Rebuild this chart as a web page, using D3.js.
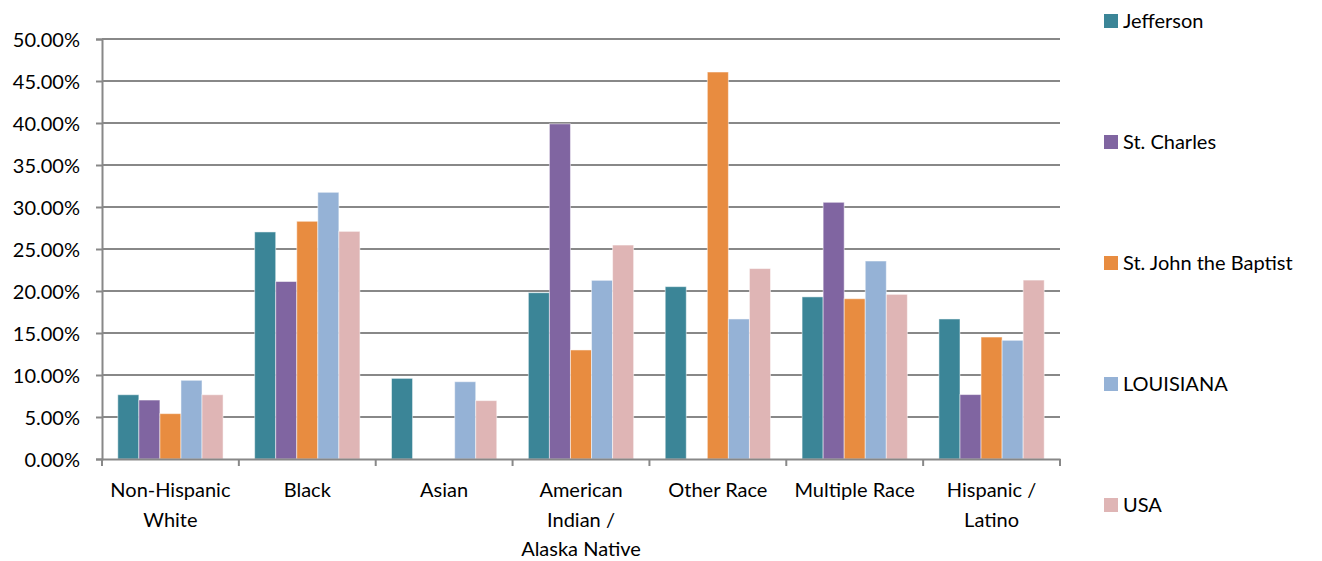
<!DOCTYPE html>
<html>
<head>
<meta charset="utf-8">
<script src="https://cdn.jsdelivr.net/npm/d3@7"></script>
<style>
  body { margin: 0; background: #fff; }
  text { font-family: Lato, "Open Sans", sans-serif; fill: #000; }
</style>
</head>
<body>
<div id="chart"></div>
<script>
// categories (line breaks as in the original labels)
var categories = ["Non-Hispanic White", "Black", "Asian", "American Indian / Alaska Native",
                  "Other Race", "Multiple Race", "Hispanic / Latino"];
var categoryLines = [["Non-Hispanic", "White"], ["Black"], ["Asian"],
                     ["American", "Indian /", "Alaska Native"], ["Other Race"],
                     ["Multiple Race"], ["Hispanic /", "Latino"]];

var seriesNames = ["Jefferson", "St. Charles", "St. John the Baptist", "LOUISIANA", "USA"];
var seriesColors = ["#3b8597", "#8065a1", "#e88c40", "#95b2d6", "#dfb5b5"];

// percent values per series, in category order
var jefferson  = [7.65, 27.03, 9.6, 19.8, 20.52, 19.3, 16.67];
var stCharles  = [7.02, 21.13, 0, 39.9, 0, 30.56, 7.67];
var stJohn     = [5.4, 28.3, 0, 12.98, 46.07, 19.08, 14.52];
var louisiana  = [9.37, 31.75, 9.2, 21.27, 16.67, 23.57, 14.13];
var usa        = [7.65, 27.1, 6.95, 25.47, 22.67, 19.6, 21.3];

var seriesValues = [jefferson, stCharles, stJohn, louisiana, usa];
var yTicks = [0, 5, 10, 15, 20, 25, 30, 35, 40, 45, 50];

var W = 1322, H = 561;
var margin = {top: 39, right: 262, bottom: 102, left: 102},
    width = W - margin.left - margin.right,
    height = H - margin.top - margin.bottom;

var fontSize = "20px";

var svg = d3.select("#chart")
    .append("svg")
    .attr("width", W)
    .attr("height", H);

var g = svg.append("g")
    .attr("transform", "translate(" + margin.left + "," + margin.top + ")");

var x = d3.scaleBand()
    .domain(categories)
    .range([0, width])
    .paddingInner(0)
    .paddingOuter(0);

var xInner = d3.scaleBand()
    .domain(seriesNames)
    .range([0, x.bandwidth()])
    .paddingOuter(0.75)
    .paddingInner(0);

var y = d3.scaleLinear()
    .domain([0, 50])
    .range([height, 0]);

// gridlines
g.selectAll(".grid")
    .data(yTicks.slice(1))
    .enter()
    .append("line")
    .attr("x1", 0)
    .attr("x2", width)
    .attr("y1", d => y(d))
    .attr("y2", d => y(d))
    .attr("stroke", "#888")
    .attr("stroke-width", 2);

// bars
var rows = categories.map((c, i) => ({cat: c, vals: seriesValues.map((s, j) => ({name: seriesNames[j], v: s[i], c: seriesColors[j]}))}));

g.selectAll(".group")
    .data(rows)
    .enter()
    .append("g")
    .attr("transform", d => "translate(" + x(d.cat) + ",0)")
    .selectAll("rect")
    .data(d => d.vals.filter(v => v.v > 0))
    .enter()
    .append("rect")
    .attr("x", d => xInner(d.name))
    .attr("y", d => y(d.v))
    .attr("width", xInner.bandwidth())
    .attr("height", d => y(0) - y(d.v))
    .attr("fill", d => d.c)
    .attr("stroke", "#fff")
    .attr("stroke-opacity", 0.5)
    .attr("stroke-width", 1);

// y axis
var yAxis = g.append("g")
    .call(d3.axisLeft(y).tickValues(yTicks).tickSize(6).tickFormat(d => d.toFixed(2) + "%"));
yAxis.select(".domain").attr("stroke", "#888").attr("stroke-width", 2);
yAxis.selectAll(".tick line").attr("stroke", "#888").attr("stroke-width", 2);
yAxis.selectAll(".tick text")
    .attr("x", -22)
    .attr("dy", "0.36em")
    .style("font-size", fontSize)
    .style("font-family", "Lato, sans-serif");

// x axis
var xAxis = g.append("g")
    .attr("transform", "translate(0," + height + ")")
    .call(d3.axisBottom(x).tickSizeOuter(0).tickSize(0).tickFormat(""));
xAxis.select(".domain").attr("stroke", "#888").attr("stroke-width", 2);

// tick marks at band boundaries
var bounds = categories.map(c => x(c)).concat([width]);
xAxis.selectAll(".bound")
    .data(bounds)
    .enter()
    .append("line")
    .attr("x1", d => d)
    .attr("x2", d => d)
    .attr("y1", 0)
    .attr("y2", 7)
    .attr("stroke", "#888")
    .attr("stroke-width", 2);

// category labels
var labels = g.append("g").attr("transform", "translate(0," + height + ")");
labels.selectAll("text")
    .data(categories)
    .enter()
    .append("text")
    .attr("text-anchor", "middle")
    .attr("x", d => x(d) + x.bandwidth() / 2)
    .style("font-size", fontSize)
    .each(function(d, i) {
        var t = d3.select(this);
        categoryLines[i].forEach((line, k) => {
            t.append("tspan")
                .attr("x", x(d) + x.bandwidth() / 2)
                .attr("y", 38 + k * 29.5)
                .text(line);
        });
    });

// legend
var legend = svg.append("g")
    .attr("transform", "translate(1104,0)");
var leg = legend.selectAll("g")
    .data(seriesNames)
    .enter()
    .append("g")
    .attr("transform", (d, i) => "translate(0," + (21 + i * 121) + ")");
leg.append("rect")
    .attr("x", 0)
    .attr("y", -7)
    .attr("width", 14)
    .attr("height", 14)
    .attr("fill", (d, i) => seriesColors[i]);
leg.append("text")
    .attr("x", 19)
    .attr("y", 0)
    .attr("dy", "0.36em")
    .style("font-size", fontSize)
    .text(d => d);
</script>
</body>
</html>
